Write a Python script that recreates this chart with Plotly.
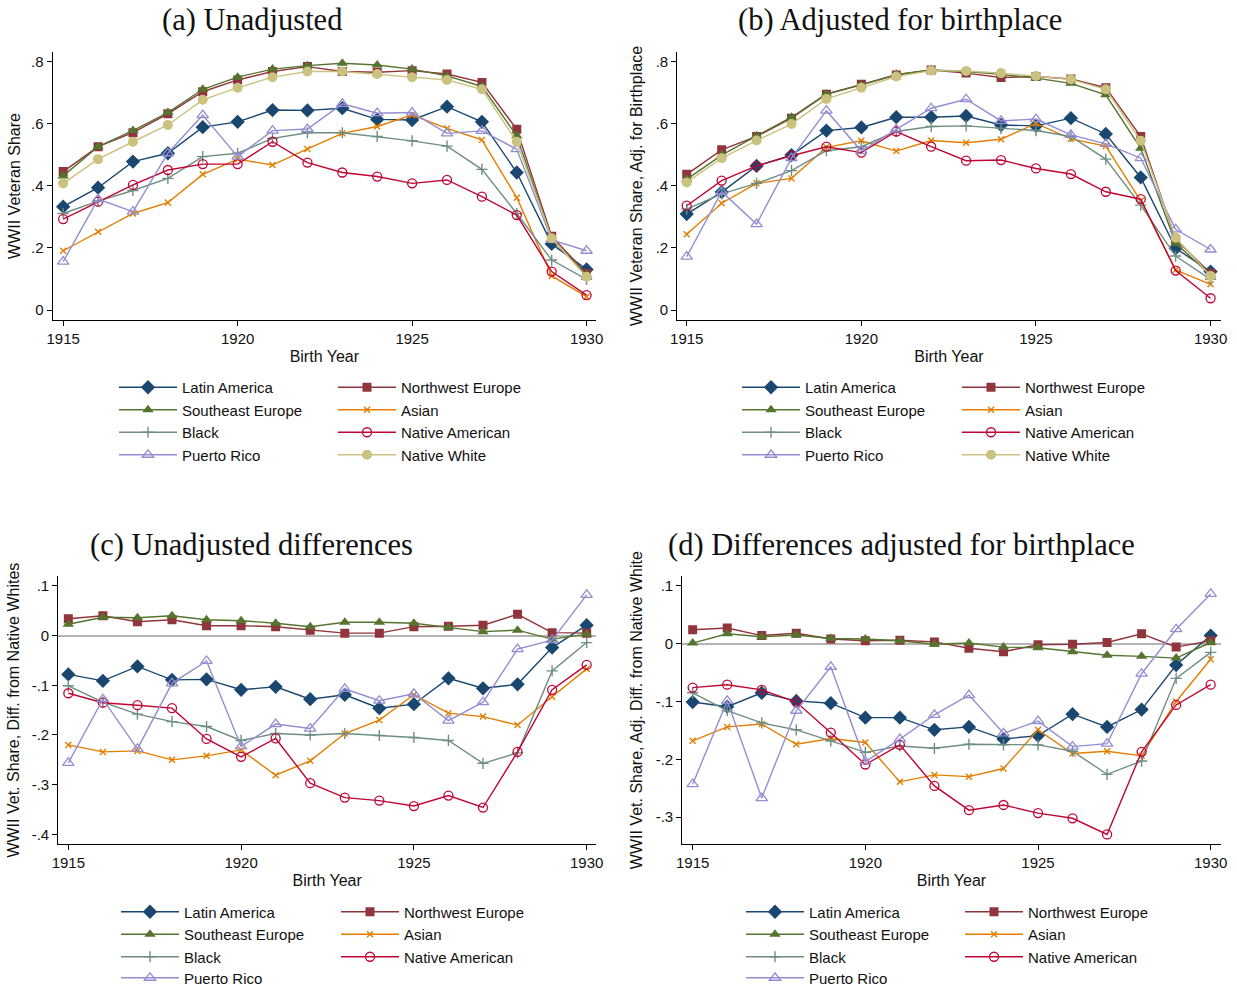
import plotly.graph_objects as go

# ---------------------------------------------------------------------------
# Data: WWII veteran share by birth year and group
# ---------------------------------------------------------------------------
years = list(range(1915, 1931))

# (a) Unadjusted
a_latin_america = [0.333, 0.394, 0.478, 0.505, 0.589, 0.606, 0.644, 0.643, 0.650, 0.614, 0.612, 0.655, 0.606, 0.443, 0.213, 0.131]
a_northwest_europe = [0.446, 0.526, 0.571, 0.632, 0.703, 0.741, 0.768, 0.784, 0.768, 0.766, 0.771, 0.760, 0.733, 0.582, 0.238, 0.118]
a_southeast_europe = [0.432, 0.526, 0.578, 0.636, 0.711, 0.750, 0.776, 0.787, 0.795, 0.789, 0.776, 0.754, 0.720, 0.561, 0.228, 0.113]
a_asian = [0.191, 0.252, 0.311, 0.346, 0.437, 0.486, 0.467, 0.519, 0.569, 0.591, 0.628, 0.585, 0.548, 0.362, 0.110, 0.043]
a_black = [0.311, 0.351, 0.385, 0.424, 0.494, 0.505, 0.553, 0.571, 0.571, 0.559, 0.545, 0.528, 0.453, 0.311, 0.161, 0.099]
a_native_american = [0.293, 0.349, 0.403, 0.451, 0.470, 0.470, 0.542, 0.475, 0.443, 0.430, 0.408, 0.419, 0.365, 0.306, 0.124, 0.048]
a_puerto_rico = [0.156, 0.357, 0.317, 0.505, 0.628, 0.494, 0.578, 0.583, 0.664, 0.634, 0.636, 0.569, 0.577, 0.518, 0.226, 0.191]
a_native_white = [0.408, 0.486, 0.542, 0.596, 0.677, 0.716, 0.750, 0.768, 0.768, 0.760, 0.750, 0.741, 0.711, 0.542, 0.231, 0.107]

# (b) Adjusted for birthplace
b_latin_america = [0.309, 0.380, 0.464, 0.499, 0.578, 0.588, 0.621, 0.621, 0.625, 0.596, 0.593, 0.618, 0.567, 0.427, 0.199, 0.124]
b_northwest_europe = [0.437, 0.516, 0.559, 0.618, 0.695, 0.727, 0.757, 0.773, 0.763, 0.749, 0.752, 0.744, 0.716, 0.559, 0.228, 0.118]
b_southeast_europe = [0.421, 0.499, 0.561, 0.621, 0.696, 0.725, 0.759, 0.773, 0.768, 0.759, 0.747, 0.730, 0.693, 0.521, 0.215, 0.113]
b_asian = [0.244, 0.344, 0.408, 0.424, 0.524, 0.545, 0.512, 0.546, 0.539, 0.550, 0.601, 0.551, 0.528, 0.352, 0.129, 0.083]
b_black = [0.325, 0.374, 0.408, 0.449, 0.513, 0.526, 0.575, 0.591, 0.593, 0.585, 0.578, 0.559, 0.486, 0.338, 0.174, 0.099]
b_native_american = [0.336, 0.417, 0.464, 0.497, 0.526, 0.507, 0.575, 0.526, 0.481, 0.483, 0.456, 0.438, 0.381, 0.357, 0.127, 0.038]
b_puerto_rico = [0.172, 0.381, 0.277, 0.489, 0.642, 0.512, 0.582, 0.650, 0.679, 0.609, 0.615, 0.564, 0.535, 0.489, 0.260, 0.195]
b_native_white = [0.411, 0.489, 0.546, 0.599, 0.680, 0.716, 0.752, 0.771, 0.770, 0.763, 0.754, 0.743, 0.711, 0.545, 0.233, 0.110]

# (c) Unadjusted differences from native whites
c_latin_america = [-0.078, -0.091, -0.062, -0.089, -0.088, -0.109, -0.103, -0.128, -0.119, -0.146, -0.138, -0.086, -0.106, -0.098, -0.024, 0.021]
c_northwest_europe = [0.034, 0.040, 0.028, 0.032, 0.020, 0.020, 0.018, 0.011, 0.005, 0.005, 0.018, 0.019, 0.021, 0.043, 0.006, 0.005]
c_southeast_europe = [0.023, 0.037, 0.036, 0.040, 0.032, 0.030, 0.025, 0.018, 0.027, 0.027, 0.025, 0.017, 0.008, 0.011, -0.007, 0.003]
c_asian = [-0.220, -0.234, -0.232, -0.250, -0.242, -0.230, -0.281, -0.252, -0.197, -0.170, -0.119, -0.156, -0.163, -0.180, -0.123, -0.067]
c_black = [-0.101, -0.134, -0.158, -0.173, -0.183, -0.211, -0.197, -0.200, -0.197, -0.201, -0.205, -0.211, -0.257, -0.236, -0.071, -0.014]
c_native_american = [-0.116, -0.135, -0.140, -0.146, -0.208, -0.244, -0.207, -0.297, -0.326, -0.332, -0.343, -0.322, -0.346, -0.234, -0.109, -0.059]
c_puerto_rico = [-0.256, -0.128, -0.228, -0.096, -0.051, -0.223, -0.178, -0.187, -0.107, -0.131, -0.117, -0.171, -0.134, -0.027, -0.009, 0.082]

# (d) Differences adjusted for birthplace
d_latin_america = [-0.101, -0.109, -0.085, -0.099, -0.103, -0.128, -0.128, -0.149, -0.144, -0.165, -0.159, -0.122, -0.144, -0.114, -0.037, 0.014]
d_northwest_europe = [0.024, 0.027, 0.014, 0.018, 0.008, 0.005, 0.006, 0.003, -0.008, -0.014, -0.002, -0.001, 0.002, 0.017, -0.006, 0.005]
d_southeast_europe = [0.001, 0.017, 0.012, 0.015, 0.009, 0.008, 0.005, -0.001, 0.001, -0.006, -0.007, -0.014, -0.020, -0.022, -0.025, 0.002]
d_asian = [-0.168, -0.144, -0.139, -0.174, -0.164, -0.171, -0.239, -0.227, -0.230, -0.216, -0.149, -0.190, -0.186, -0.194, -0.100, -0.027]
d_black = [-0.085, -0.116, -0.137, -0.149, -0.168, -0.188, -0.177, -0.181, -0.174, -0.175, -0.175, -0.186, -0.226, -0.203, -0.060, -0.015]
d_native_american = [-0.076, -0.071, -0.080, -0.101, -0.154, -0.209, -0.175, -0.246, -0.288, -0.279, -0.293, -0.302, -0.330, -0.187, -0.106, -0.071]
d_puerto_rico = [-0.243, -0.099, -0.267, -0.116, -0.040, -0.204, -0.165, -0.123, -0.089, -0.155, -0.134, -0.178, -0.173, -0.052, 0.025, 0.086]

# Axis ticks
x_ticks = [1915, 1920, 1925, 1930]
share_ticks = [0, 0.2, 0.4, 0.6, 0.8]
share_labels = ["0", ".2", ".4", ".6", ".8"]
c_ticks = [-0.4, -0.3, -0.2, -0.1, 0, 0.1]
c_labels = ["-.4", "-.3", "-.2", "-.1", "0", ".1"]
d_ticks = [-0.3, -0.2, -0.1, 0, 0.1]
d_labels = ["-.3", "-.2", "-.1", "0", ".1"]

# ---------------------------------------------------------------------------
# Styling (Stata s2color look)
# ---------------------------------------------------------------------------
SANS = "Liberation Sans, Arial, Helvetica, sans-serif"
SERIF = "Liberation Serif, Times New Roman, serif"
TXT = "#111111"

style = {
    "Latin America":    dict(color="#1a476f", symbol="diamond", size=11, lw=0),
    "Northwest Europe": dict(color="#90353b", symbol="square", size=9, lw=0),
    "Southeast Europe": dict(color="#55752f", symbol="triangle-up", size=10, lw=0),
    "Asian":            dict(color="#e37e00", symbol="x-thin", size=6, lw=1.4),
    "Black":            dict(color="#6e8e84", symbol="cross-thin", size=8, lw=1.4),
    "Native American":  dict(color="#c10534", symbol="circle-open", size=9, lw=1.3),
    "Puerto Rico":      dict(color="#938dd2", symbol="triangle-up-open", size=10, lw=1.3),
    "Native White":     dict(color="#cac27e", symbol="circle", size=10, lw=0),
}
left_col = {"Latin America", "Southeast Europe", "Black", "Puerto Rico"}

# (x axis, y axis, left legend, right legend, legend for a 4th left row if split, series)
panels = [
    ("x", "y", "legend", "legend2", None, [
        ("Latin America", a_latin_america), ("Northwest Europe", a_northwest_europe),
        ("Southeast Europe", a_southeast_europe), ("Asian", a_asian),
        ("Black", a_black), ("Native American", a_native_american),
        ("Puerto Rico", a_puerto_rico), ("Native White", a_native_white)]),
    ("x2", "y2", "legend3", "legend4", None, [
        ("Latin America", b_latin_america), ("Northwest Europe", b_northwest_europe),
        ("Southeast Europe", b_southeast_europe), ("Asian", b_asian),
        ("Black", b_black), ("Native American", b_native_american),
        ("Puerto Rico", b_puerto_rico), ("Native White", b_native_white)]),
    ("x3", "y3", "legend5", "legend6", "legend9", [
        ("Latin America", c_latin_america), ("Northwest Europe", c_northwest_europe),
        ("Southeast Europe", c_southeast_europe), ("Asian", c_asian),
        ("Black", c_black), ("Native American", c_native_american),
        ("Puerto Rico", c_puerto_rico)]),
    ("x4", "y4", "legend7", "legend8", "legend10", [
        ("Latin America", d_latin_america), ("Northwest Europe", d_northwest_europe),
        ("Southeast Europe", d_southeast_europe), ("Asian", d_asian),
        ("Black", d_black), ("Native American", d_native_american),
        ("Puerto Rico", d_puerto_rico)]),
]

fig = go.Figure()
for xa, ya, leg_l, leg_r, leg_last, series in panels:
    for name, vals in series:
        s = style[name]
        if name in left_col:
            leg = leg_last if (leg_last and name == "Puerto Rico") else leg_l
        else:
            leg = leg_r
        fig.add_trace(go.Scatter(
            x=years, y=vals, name=name, mode="lines+markers",
            xaxis=xa, yaxis=ya, legend=leg,
            line=dict(color=s["color"], width=1.4),
            marker=dict(symbol=s["symbol"], size=s["size"], color=s["color"],
                        line=dict(color=s["color"], width=s["lw"])),
        ))

W, H = 1237, 989


def px_x(v):
    return v / W


def px_y(v):
    return 1 - v / H


def xaxis_cfg(left, right, anchor, rng):
    return dict(
        domain=[px_x(left), px_x(right)], anchor=anchor, range=rng,
        tickvals=x_ticks, ticks="outside", ticklen=5, tickwidth=1.2, tickcolor="#000",
        showline=True, linecolor="#000", linewidth=1.2, showgrid=False, zeroline=False,
        tickfont=dict(family=SANS, size=15, color=TXT),
        title=dict(text="Birth Year", font=dict(family=SANS, size=16, color=TXT), standoff=4),
    )


def yaxis_cfg(top, bottom, anchor, rng, tv, tt, title, standoff, zero):
    return dict(
        domain=[px_y(bottom), px_y(top)], anchor=anchor, range=rng,
        tickvals=tv, ticktext=tt, ticks="outside", ticklen=5, tickwidth=1.2, tickcolor="#000",
        showline=True, linecolor="#000", linewidth=1.2, showgrid=False,
        zeroline=zero, zerolinecolor="#b4b4b4", zerolinewidth=1.6,
        tickfont=dict(family=SANS, size=15, color=TXT),
        title=dict(text=title, font=dict(family=SANS, size=16, color=TXT), standoff=standoff),
    )


def legend_cfg(left, top):
    return dict(
        x=px_x(left), y=px_y(top), xanchor="left", yanchor="top",
        orientation="v", bgcolor="rgba(0,0,0,0)", borderwidth=0,
        itemwidth=58, font=dict(family=SANS, size=15, color=TXT),
        tracegroupgap=0,
    )


TOP_AB = 371
TOP_CD = 895.5

fig.update_layout(
    width=W, height=H,
    margin=dict(l=0, r=0, t=0, b=0, autoexpand=False),
    paper_bgcolor="white", plot_bgcolor="white",
    xaxis=xaxis_cfg(52.7, 596, "y", [1914.7, 1930.27]),
    yaxis=yaxis_cfg(52, 320, "x", [-0.032, 0.831], share_ticks, share_labels,
                    "WWII Veteran Share", 6, False),
    xaxis2=xaxis_cfg(677.3, 1220.7, "y2", [1914.73, 1930.29]),
    yaxis2=yaxis_cfg(52, 320, "x2", [-0.032, 0.831], share_ticks, share_labels,
                     "WWII Veteran Share, Adj. for Birthplace", 9, False),
    xaxis3=xaxis_cfg(58.3, 596, "y3", [1914.71, 1930.27]),
    yaxis3=yaxis_cfg(576, 844.3, "x3", [-0.42, 0.12], c_ticks, c_labels,
                     "WWII Vet. Share, Diff. from Native Whites", 8, True),
    xaxis4=xaxis_cfg(682.3, 1220.7, "y4", [1914.7, 1930.29]),
    yaxis4=yaxis_cfg(576, 844.3, "x4", [-0.347, 0.117], d_ticks, d_labels,
                     "WWII Vet. Share, Adj. Diff. from Native White", 9, True),
    legend=legend_cfg(114, TOP_AB),
    legend2=legend_cfg(333, TOP_AB),
    legend3=legend_cfg(737, TOP_AB),
    legend4=legend_cfg(957, TOP_AB),
    legend5=legend_cfg(116, TOP_CD),
    legend6=legend_cfg(336, TOP_CD),
    legend7=legend_cfg(741, TOP_CD),
    legend8=legend_cfg(960, TOP_CD),
    legend9=legend_cfg(116, TOP_CD + 66),
    legend10=legend_cfg(741, TOP_CD + 66),
    showlegend=True,
)

panel_titles = [
    ("(a) Unadjusted", 251.5, 20),
    ("(b) Adjusted for birthplace", 900, 20),
    ("(c) Unadjusted differences", 251.5, 545),
    ("(d) Differences adjusted for birthplace", 901.5, 545),
]
for text, cx, cy in panel_titles:
    fig.add_annotation(
        text=text, x=px_x(cx), y=px_y(cy), xref="paper", yref="paper",
        xanchor="center", yanchor="middle", showarrow=False,
        font=dict(family=SERIF, size=30.5, color=TXT),
    )

fig.write_html("out.html")
